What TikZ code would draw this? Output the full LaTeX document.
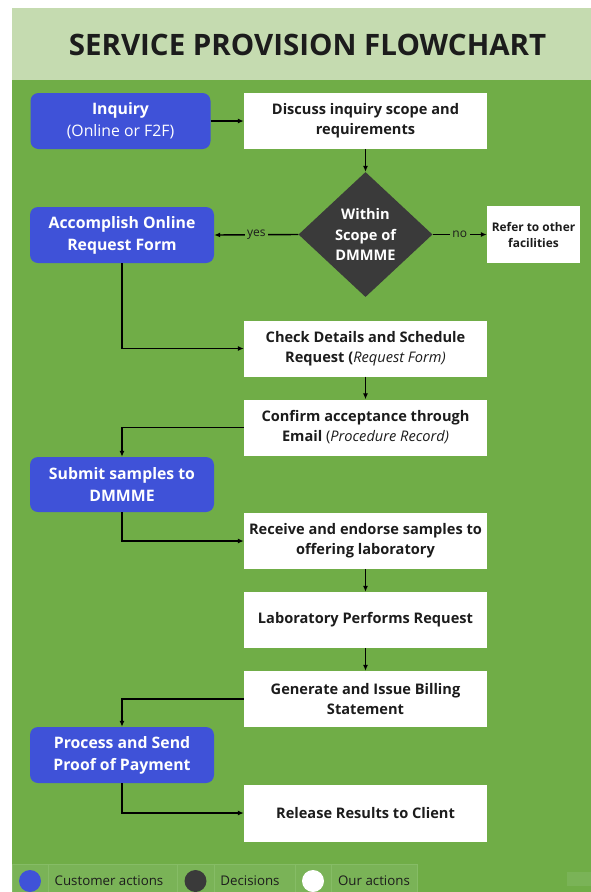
\documentclass[tikz,border=0pt]{standalone}
\usepackage{fontspec}
\setmainfont{Open Sans}
\usetikzlibrary{shapes.geometric,arrows.meta}
\definecolor{bodygreen}{HTML}{70AD47}
\definecolor{headgreen}{HTML}{C5DBB0}
\definecolor{custblue}{HTML}{3F52D8}
\definecolor{decdark}{HTML}{3A3A3A}
\definecolor{legfill}{HTML}{7AB357}
\definecolor{legline}{HTML}{86BC66}
\definecolor{txt}{HTML}{1C1C1C}
\tikzset{
  cust/.style={draw=none,fill=custblue,rounded corners=8pt,text=white,align=center,
    minimum width=184pt,minimum height=56pt,inner sep=0pt,
    font=\fontsize{15.8}{22}\selectfont\bfseries},
  ours/.style={draw=none,fill=white,text=txt,align=center,
    minimum width=243pt,minimum height=56pt,inner sep=0pt,
    font=\fontsize{14.6}{20}\selectfont\bfseries},
  dec/.style={shape=diamond,fill=decdark,text=white,align=center,
    minimum width=134pt,minimum height=125pt,inner sep=0pt,
    font=\fontsize{14.6}{20.5}\selectfont\bfseries},
  conn/.style={draw=black,line width=1.4pt,-{Latex[length=6pt,width=5pt]}},
  lbl/.style={fill=bodygreen,text=txt,inner sep=2.5pt,font=\fontsize{12}{14}\selectfont},
  legcell/.style={draw=legline,fill=legfill,line width=0.6pt},
  legtext/.style={text=txt,font=\fontsize{13.3}{15}\selectfont,anchor=center}
}
\begin{document}
\begin{tikzpicture}[x=1pt,y=-1pt]
\useasboundingbox (0,0) rectangle (591,892);
\fill[white] (0,0) rectangle (591,892);
% header
\fill[headgreen] (12,8) rectangle (591,80);
\node[text=txt,font=\fontsize{29.5}{33}\selectfont\bfseries] (title) at (307.5,45) {SERVICE PROVISION FLOWCHART};
% body
\fill[bodygreen] (12,80) rectangle (591,892);

% nodes
\node[cust,minimum width=180pt] (inq) at (120.5,121) {Inquiry\\\mdseries(Online or F2F)};
\node[ours] (disc) at (365.5,121) {Discuss inquiry scope and\\requirements};
\node[dec] (dia) at (365.5,234.5) {Within\\Scope of\\DMMME};
\node[cust] (acc) at (122,235) {Accomplish Online\\Request Form};
\node[ours,minimum width=93pt,minimum height=57pt,font=\fontsize{11.9}{16}\selectfont\bfseries] (ref) at (533.5,234.5) {Refer to other\\facilities};
\node[ours] (chk) at (365.5,348.5) {Check Details and Schedule\\Request (\mdseries\itshape Request Form)};
\node[ours] (conf) at (365.5,427.5) {Confirm acceptance through\\Email {\mdseries(\itshape Procedure Record)}};
\node[cust,minimum height=55pt] (sub) at (122,484.5) {Submit samples to\\DMMME};
\node[ours] (recv) at (365.5,541) {Receive and endorse samples to\\offering laboratory};
\node[ours] (lab) at (365.5,620) {Laboratory Performs Request};
\node[ours] (gen) at (365.5,699) {Generate and Issue Billing\\Statement};
\node[cust] (proc) at (122,755) {Process and Send\\Proof of Payment};
\node[ours,minimum height=57pt] (rel) at (365.5,813) {Release Results to Client};

% connectors
\draw[conn] (inq.east) -- (disc.west);
\draw[conn] (disc.south) -- (dia.north);
\draw[conn] (dia.west) -- node[lbl] (yes) {yes} (acc.east);
\draw[conn] (dia.east) -- node[lbl] (no) {no} (ref.west);
\draw[conn] (acc.south) |- (chk.west);
\draw[conn] (chk.south) -- (conf.north);
\draw[conn] (conf.west) -| (sub.north);
\draw[conn] (sub.south) |- (recv.west);
\draw[conn] (recv.south) -- (lab.north);
\draw[conn] (lab.south) -- (gen.north);
\draw[conn] (gen.west) -| (proc.north);
\draw[conn] (proc.south) |- (rel.west);

% legend
\draw[legcell] (12,864) rectangle (48,893);
\draw[legcell] (48,864) rectangle (177,893);
\draw[legcell] (177,864) rectangle (214,893);
\draw[legcell] (214,864) rectangle (295,893);
\draw[legcell] (295,864) rectangle (331,893);
\draw[legcell] (331,864) rectangle (417,893);
\fill[custblue] (30,881) circle (11);
\fill[decdark] (195.5,881) circle (11);
\fill[white] (313,881) circle (11);
\node[legtext] (l1) at (109,881) {Customer actions};
\node[legtext] (l2) at (250,881) {Decisions};
\node[legtext] (l3) at (374,881) {Our actions};
\fill[legfill] (567,872) rectangle (591,886);
\end{tikzpicture}
\end{document}
